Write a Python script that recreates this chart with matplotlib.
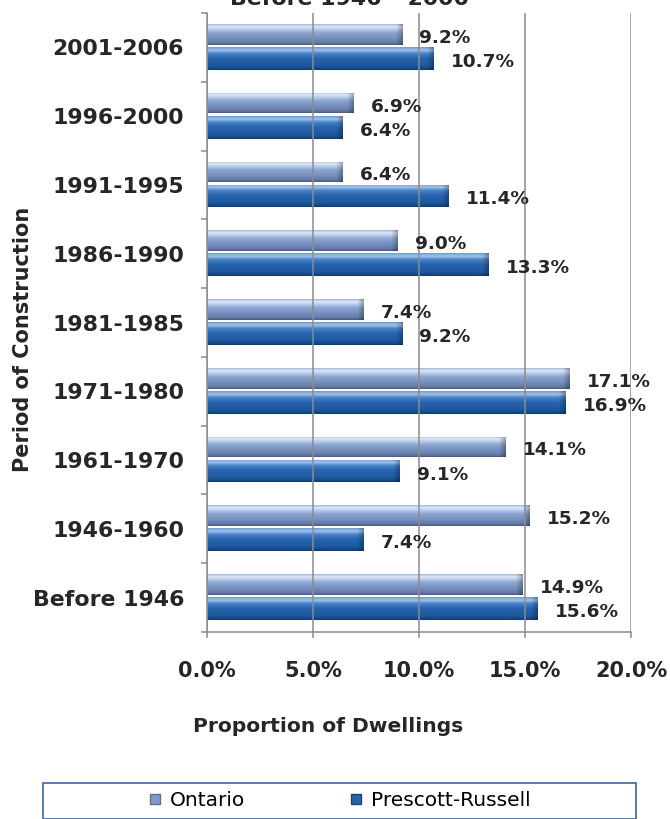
import numpy as np
import matplotlib
matplotlib.use("Agg")
import matplotlib.pyplot as plt
from matplotlib.colors import LinearSegmentedColormap
from matplotlib.lines import Line2D
from matplotlib.patches import Rectangle

# data (top row first)
categories = ['2001-2006', '1996-2000', '1991-1995', '1986-1990', '1981-1985',
              '1971-1980', '1961-1970', '1946-1960', 'Before 1946']
ontario = [9.2, 6.9, 6.4, 9.0, 7.4, 17.1, 14.1, 15.2, 14.9]
prescott = [10.7, 6.4, 11.4, 13.3, 9.2, 16.9, 9.1, 7.4, 15.6]
series_names = ['Ontario', 'Prescott-Russell']
xtick_vals = [0, 5, 10, 15, 20]
xtick_labels = ['0.0%', '5.0%', '10.0%', '15.0%', '20.0%']

W, H = 670, 819
txt = '#262626'
grey = '#8c8c8c'

ont_cmap = LinearSegmentedColormap.from_list('ont', [
    (0.0, '#9fb6dc'), (0.12, '#dfe9f7'), (0.25, '#b6cbea'), (0.42, '#8ba4cf'),
    (0.72, '#748cba'), (0.9, '#637aa7'), (1.0, '#4a5a7c')])
pr_cmap = LinearSegmentedColormap.from_list('pr', [
    (0.0, '#6e9ad2'), (0.13, '#a3c3ea'), (0.28, '#4580c8'), (0.5, '#2764ae'),
    (0.8, '#1d5a9f'), (0.92, '#174c89'), (1.0, '#10396a')])


def shade_bars(ax, bars, cmap):
    # vertical gradient + darker right end, clipped to each bar
    for b in bars:
        x0, y0 = b.get_x(), b.get_y()
        w, h = b.get_width(), b.get_height()
        rows = cmap(np.linspace(0, 1, 64))[:, :3]
        cols = np.linspace(0, w, 300)
        dark = 1 - 0.28 * np.clip((cols - (w - 0.3)) / 0.3, 0, 1)
        img = rows[:, None, :] * dark[None, :, None]
        im = ax.imshow(img, extent=(x0, x0 + w, y0, y0 + h), origin='upper',
                       aspect='auto', interpolation='bilinear', zorder=1)
        im.set_clip_path(b)


fig = plt.figure(figsize=(W / 100, H / 100), dpi=100)
ax = fig.add_axes([207 / W, 1 - 632 / H, 424 / W, 619 / H])

pos = np.arange(len(categories))[::-1]
b_ont = ax.barh(pos + 0.19, ontario, height=0.30, facecolor='none', edgecolor='none')
b_pr = ax.barh(pos - 0.16, prescott, height=0.33, facecolor='none', edgecolor='none')
shade_bars(ax, b_ont, ont_cmap)
shade_bars(ax, b_pr, pr_cmap)

for bars, vals in ((b_ont, ontario), (b_pr, prescott)):
    for b, v in zip(bars, vals):
        ax.annotate(f'{v:.1f}%', (v, b.get_y() + b.get_height() / 2),
                    xytext=(12.5, -2.5), textcoords='offset points',
                    ha='left', va='center', fontsize=13.3, fontweight='bold',
                    color=txt, zorder=4)

ax.set_xlim(0, 20)
ax.set_ylim(-0.5, len(categories) - 0.5)

ax.set_axisbelow(False)
ax.xaxis.grid(True, color=grey, linewidth=1.1, zorder=3)
for s in ('top', 'right'):
    ax.spines[s].set_visible(False)
for s in ('left', 'bottom'):
    ax.spines[s].set_color(grey)
    ax.spines[s].set_linewidth(1.1)

ax.set_xticks(xtick_vals)
ax.set_xticklabels(xtick_labels, fontsize=15, fontweight='bold', color=txt)
ax.tick_params(axis='x', length=4.3, width=1.1, color=grey, pad=16.5)

ax.set_yticks(pos)
ax.set_yticklabels(categories, fontsize=15.8, fontweight='bold', color=txt)
ax.set_yticks(np.arange(len(categories) + 1) - 0.5, minor=True)
ax.tick_params(axis='y', which='major', length=0, pad=16.5)
ax.tick_params(axis='y', which='minor', length=4.5, width=1.1, color=grey)

# title sits partly above the top edge, as in the reference
fig.text(349 / W, 1 - 5 / H, 'Before 1946 \u2013 2006', ha='center', va='baseline',
         fontsize=15.8, fontweight='bold', color=txt)
fig.text(328 / W, 1 - 726 / H, 'Proportion of Dwellings', ha='center', va='center',
         fontsize=14.6, fontweight='bold', color=txt)
fig.text(23 / W, 1 - 339 / H, 'Period of Construction', ha='center', va='center',
         rotation=90, fontsize=15, fontweight='bold', color=txt)

# legend box (runs off the bottom edge in the reference)
fig.patches.append(Rectangle((43 / W, 1 - 818.5 / H), 593 / W, 35.5 / H,
                             transform=fig.transFigure, facecolor='white',
                             edgecolor='#3a66a8', linewidth=1.2))
handles = [Line2D([], [], linestyle='none', marker='s', markersize=7.5,
                  markerfacecolor='#8099c6', markeredgecolor='#5a6f99'),
           Line2D([], [], linestyle='none', marker='s', markersize=7.5,
                  markerfacecolor='#2a62a8', markeredgecolor='#16457c')]
fig.legend(handles, series_names, loc='center', bbox_to_anchor=(340 / W, 1 - 801 / H),
           ncol=2, frameon=False, fontsize=14.5, handlelength=0.6,
           handletextpad=0.45, columnspacing=5.2, borderpad=0)

fig.savefig('out.png', dpi=100)
